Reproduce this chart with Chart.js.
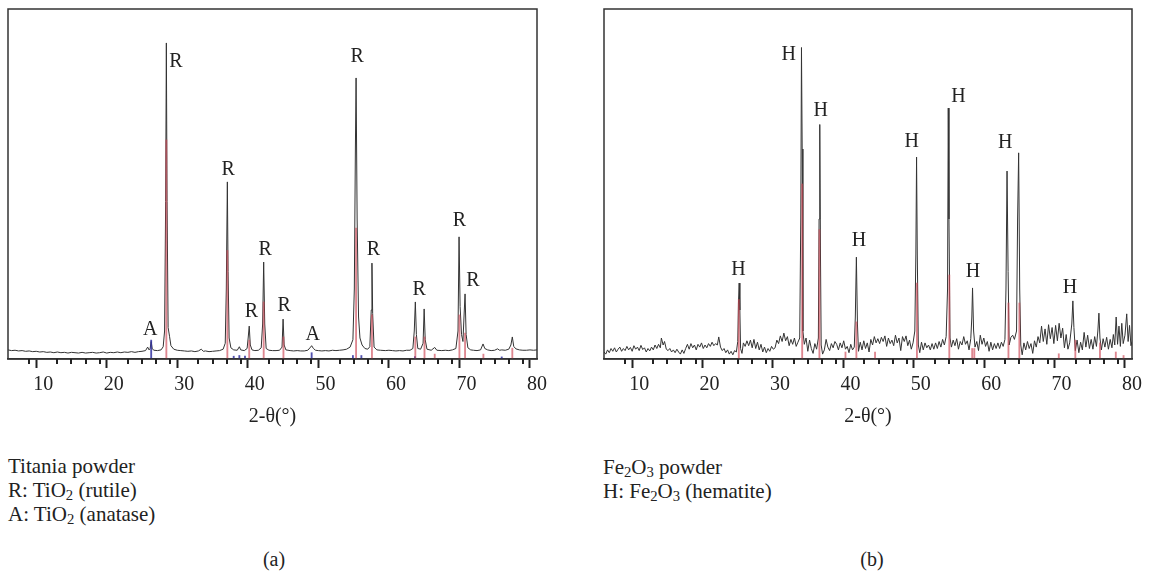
<!DOCTYPE html>
<html>
<head>
<meta charset="utf-8">
<script src="https://cdn.jsdelivr.net/npm/chart.js@4/dist/chart.umd.min.js"></script>
<style>
  body { margin: 0; width: 1150px; height: 572px; background: #fff; position: relative; overflow: hidden;
         font-family: 'Liberation Serif', 'DejaVu Serif', serif; color: #222; }
  .plot { position: absolute; top: 0; width: 575px; height: 440px; }
  .caption { position: absolute; font-size: 21px; line-height: 24px; white-space: nowrap; }
  .caption sub { font-size: 70%; vertical-align: -0.2em; line-height: 0; }
  .panel { position: absolute; top: 547px; font-size: 20px; line-height: 24px; transform: translateX(-50%); }
</style>
</head>
<body>
<div class="plot" style="left:0"><canvas id="chartA"></canvas></div>
<div class="plot" style="left:575px"><canvas id="chartB"></canvas></div>

<div class="caption" style="left:8px; top:454px">Titania powder<br>R: TiO<sub>2</sub> (rutile)<br>A: TiO<sub>2</sub> (anatase)</div>
<div class="caption" style="left:603px; top:455px">Fe<sub>2</sub>O<sub>3</sub> powder<br>H: Fe<sub>2</sub>O<sub>3</sub> (hematite)</div>
<div class="panel" style="left:274px">(a)</div>
<div class="panel" style="left:872px">(b)</div>

<script>
// --- DONNÉES (a) : poudre de titane ---
const titaniaTheta = [5.0, 5.5, 6.0, 6.5, 7.0, 7.5, 8.0, 8.5, 9.0, 9.5, 10.0, 10.5, 11.0, 11.5, 12.0, 12.5,
  13.0, 13.5, 14.0, 14.5, 15.0, 15.5, 16.0, 16.5, 17.0, 17.5, 18.0, 18.5, 19.0, 19.5, 20.0, 20.5, 21.0,
  21.5, 22.0, 22.5, 23.0, 23.5, 24.0, 24.5, 24.8, 25.0, 25.15, 25.3, 25.45, 25.7, 26.2, 26.7, 27.0, 27.2,
  27.35, 27.45, 27.55, 27.7, 27.9, 28.1, 28.5, 29.0, 29.5, 30.0, 30.5, 31.0, 31.5, 32.0, 32.4, 32.7, 33.0,
  33.5, 34.0, 34.5, 35.0, 35.5, 35.8, 35.95, 36.1, 36.2, 36.35, 36.6, 37.0, 37.5, 37.8, 38.0, 38.5, 38.9,
  39.05, 39.2, 39.35, 39.6, 40.0, 40.5, 40.9, 41.1, 41.25, 41.4, 41.6, 42.0, 42.5, 43.0, 43.5, 43.85, 44.0,
  44.15, 44.4, 45.0, 45.5, 46.0, 46.5, 47.0, 47.5, 47.9, 48.05, 48.3, 48.6, 49.0, 49.5, 50.0, 50.5, 51.0,
  51.5, 52.0, 52.5, 53.0, 53.5, 53.9, 54.1, 54.25, 54.35, 54.5, 54.7, 54.9, 55.2, 55.6, 56.0, 56.3, 56.5,
  56.6, 56.7, 56.9, 57.3, 57.8, 58.5, 59.0, 59.5, 60.0, 60.5, 61.0, 61.5, 62.0, 62.4, 62.6, 62.75, 62.9,
  63.1, 63.5, 63.85, 64.0, 64.15, 64.4, 65.0, 65.5, 65.8, 66.5, 67.0, 67.5, 68.0, 68.5, 68.8, 68.95, 69.1,
  69.3, 69.5, 69.65, 69.8, 69.95, 70.2, 70.6, 71.0, 71.5, 72.0, 72.35, 72.6, 73.0, 73.5, 74.0, 74.4, 74.7,
  75.0, 75.5, 76.0, 76.3, 76.5, 76.7, 77.0, 77.5, 78.0, 78.5, 79.0, 79.5, 80.0];
const titaniaCounts = [2.6, 2.4, 2.5, 2.3, 2.4, 2.2, 2.3, 2.1, 2.2, 2.0, 2.1, 1.9, 2.0, 1.8, 2.0, 1.8,
  1.9, 1.7, 1.9, 1.8, 1.7, 1.9, 1.7, 1.8, 1.9, 1.7, 1.8, 2.0, 1.7, 1.9, 1.8, 2.0, 1.8,
  2.0, 1.9, 2.1, 1.9, 2.1, 2.2, 2.4, 3.4, 2.6, 3.0, 5.0, 2.9, 2.5, 2.4, 2.6, 3.5, 8.0,
  45, 90.3, 45, 9.0, 6.5, 3.8, 2.8, 2.5, 2.4, 2.3, 2.2, 2.3, 2.1, 2.3, 2.8, 2.2, 2.3,
  2.1, 2.2, 2.3, 2.4, 2.8, 4.5, 20, 50.6, 25, 6.0, 3.2, 2.6, 2.5, 3.5, 2.6, 2.4, 3.0,
  6.0, 9.4, 4.0, 2.6, 2.4, 2.5, 3.2, 10, 27.7, 10, 3.0, 2.5, 2.4, 2.4, 2.5, 3.4, 11.4,
  4.0, 2.6, 2.4, 2.3, 2.4, 2.3, 2.3, 2.5, 3.4, 3.8, 3.0, 2.5, 2.4, 2.3, 2.4, 2.3, 2.5,
  2.4, 2.5, 2.6, 2.8, 3.4, 5.5, 20, 60, 80.3, 40, 12, 6.0, 4.0, 3.0, 2.8, 3.5, 14,
  27.4, 13, 3.4, 2.6, 2.5, 2.4, 2.5, 2.4, 2.3, 2.4, 2.3, 2.5, 2.5, 3.0, 8.0, 16.3, 7.0,
  3.0, 2.8, 4.5, 14.3, 5.5, 2.8, 2.5, 3.3, 2.5, 2.4, 2.5, 2.4, 2.6, 3.0, 8.0, 34.9, 15,
  7.0, 5.0, 12, 18.6, 7.0, 3.2, 2.6, 2.5, 2.4, 2.6, 4.3, 3.0, 2.6, 2.4, 2.5, 2.9, 2.5,
  2.6, 2.5, 2.8, 4.0, 6.3, 3.6, 2.9, 2.6, 2.5, 2.5, 2.6, 2.5, 2.6];

// raies de référence
const rutileTheta = [27.45, 36.1, 39.2, 41.25, 44.05, 54.35, 56.6, 62.75, 64.05, 65.5, 69.0, 69.8, 72.4, 76.5];
const rutileRef = [62.6, 31, 5.4, 16.3, 6.3, 37.4, 12.6, 6.3, 6.3, 1.4, 12.6, 7.4, 1.4, 3.1];
const anataseTheta = [25.3, 37.0, 37.8, 38.6, 48.05, 53.9, 55.1, 62.7, 75.0];
const anataseRef = [5.4, 0.8, 1.0, 0.8, 1.8, 1.0, 1.0, 0.7, 0.6];

// étiquettes des pics
const titaniaLabelTheta = [25.15, 28.8, 36.2, 39.5, 41.45, 44.15, 48.2, 54.5, 56.8, 63.3, 69.0, 70.9];
const titaniaLabelY = [8.4, 84.9, 54, 13.6, 31.1, 15.1, 7.0, 86.3, 31.1, 19.7, 39.4, 22.4];
const titaniaLabelText = ['A', 'R', 'R', 'R', 'R', 'R', 'A', 'R', 'R', 'R', 'R', 'R'];

// --- DONNÉES (b) : poudre de Fe2O3 ---
const hematiteTheta = [5.0, 5.25, 5.5, 5.75, 6.0, 6.25, 6.5, 6.75, 7.0, 7.25, 7.5, 7.75, 8.0, 8.25, 8.5,
  8.75, 9.0, 9.25, 9.5, 9.75, 10.0, 10.25, 10.5, 10.75, 11.0, 11.25, 11.5, 11.75, 12.0, 12.25, 12.5, 12.75,
  13.0, 13.15, 13.4, 13.6, 13.85, 14.1, 14.35, 14.6, 14.85, 15.1, 15.35, 15.6, 15.85, 16.1, 16.35, 16.6,
  16.85, 17.1, 17.35, 17.6, 17.85, 18.1, 18.35, 18.6, 18.85, 19.1, 19.35, 19.6, 19.85, 20.1, 20.35, 20.6,
  20.85, 21.1, 21.3, 21.55, 21.8, 22.05, 22.3, 22.55, 22.8, 23.05, 23.3, 23.55, 23.8, 24.0, 24.1, 24.2,
  24.3, 24.4, 24.6, 24.8, 25.05, 25.3, 25.55, 25.8, 26.05, 26.3, 26.55, 26.8, 27.05, 27.3, 27.55, 27.8,
  28.05, 28.3, 28.55, 28.8, 29.05, 29.3, 29.55, 29.8, 30.05, 30.3, 30.55, 30.8, 31.05, 31.3, 31.55, 31.8,
  32.05, 32.3, 32.55, 32.8, 32.95, 33.05, 33.15, 33.25, 33.45, 33.7, 33.95, 34.2, 34.45, 34.7, 34.95,
  35.2, 35.45, 35.55, 35.65, 35.75, 35.85, 36.05, 36.3, 36.55, 36.8, 37.05, 37.3, 37.55, 37.8, 38.05,
  38.3, 38.55, 38.8, 39.05, 39.3, 39.55, 39.8, 40.05, 40.3, 40.55, 40.7, 40.85, 41.0, 41.15, 41.4, 41.65,
  41.9, 42.15, 42.4, 42.65, 42.9, 43.15, 43.4, 43.65, 43.9, 44.15, 44.4, 44.65, 44.9, 45.15, 45.4, 45.65,
  45.9, 46.15, 46.4, 46.65, 46.9, 47.15, 47.4, 47.65, 47.9, 48.15, 48.4, 48.65, 48.9, 49.15, 49.3, 49.4,
  49.5, 49.65, 49.85, 50.1, 50.35, 50.6, 50.85, 51.1, 51.35, 51.6, 51.85, 52.1, 52.35, 52.6, 52.85, 53.1,
  53.35, 53.6, 53.8, 53.9, 54.0, 54.15, 54.35, 54.6, 54.85, 55.1, 55.35, 55.6, 55.85, 56.1, 56.35, 56.6,
  56.85, 57.1, 57.25, 57.35, 57.5, 57.7, 57.95, 58.2, 58.45, 58.7, 58.95, 59.2, 59.45, 59.7, 59.95, 60.2,
  60.45, 60.7, 60.95, 61.2, 61.45, 61.7, 61.95, 62.1, 62.25, 62.4, 62.55, 62.8, 63.05, 63.3, 63.6, 63.75,
  63.9, 64.05, 64.2, 64.4, 64.65, 64.9, 65.15, 65.4, 65.65, 65.9, 66.15, 66.4, 66.65, 66.9, 67.15, 67.4,
  67.65, 67.9, 68.15, 68.4, 68.65, 68.9, 69.15, 69.4, 69.65, 69.9, 70.15, 70.4, 70.65, 70.9, 71.15, 71.45,
  71.6, 71.75, 71.95, 72.2, 72.45, 72.7, 72.95, 73.2, 73.45, 73.7, 73.95, 74.2, 74.45, 74.7, 74.95, 75.15,
  75.3, 75.45, 75.65, 75.9, 76.15, 76.4, 76.65, 76.9, 77.15, 77.35, 77.55, 77.75, 77.95, 78.15, 78.35,
  78.55, 78.75, 79.0, 79.25, 79.45, 79.65, 79.85, 80.0];
const hematiteCounts = [2.0, 1.4, 2.6, 1.8, 3.0, 2.2, 3.2, 2.0, 2.8, 3.4, 2.2, 3.0, 2.4, 3.6, 2.6,
  3.3, 2.2, 3.8, 2.8, 3.4, 2.4, 3.9, 2.7, 3.2, 2.0, 3.0, 2.3, 3.4, 2.6, 4.0, 3.0, 4.2,
  3.2, 6.0, 4.0, 5.0, 2.8, 2.4, 3.0, 2.0, 2.6, 1.8, 2.8, 2.0, 1.4, 2.6, 1.6, 3.0,
  4.2, 2.8, 4.4, 3.2, 4.0, 2.6, 4.2, 3.4, 4.6, 3.0, 4.0, 3.2, 4.4, 3.6, 4.8, 3.8,
  4.4, 4.0, 6.3, 3.4, 2.4, 3.0, 1.8, 2.6, 1.4, 2.2, 1.2, 2.4, 2.0, 5.0, 16, 21.7,
  14, 3.0, 1.6, 4.6, 3.6, 5.2, 3.8, 5.4, 3.2, 5.6, 3.0, 4.8, 2.6, 4.2, 2.0, 3.4,
  1.8, 3.0, 2.2, 3.6, 2.8, 3.2, 5.4, 4.4, 6.6, 5.0, 7.4, 5.2, 6.4, 3.8, 5.6, 4.2,
  6.0, 3.6, 4.8, 6.0, 40, 89, 60, 8.0, 4.2, 6.0, 2.2, 5.4, 3.0, 1.6, 4.4,
  2.8, 6.0, 40, 67, 30, 4.0, 1.4, 2.6, 5.6, 3.4, 2.4, 4.4, 3.2, 5.0, 4.2,
  2.6, 4.6, 3.2, 5.2, 2.8, 3.6, 1.8, 4.2, 2.6, 3.4, 12, 29.1, 10, 2.2, 4.8, 2.6,
  5.2, 3.0, 4.6, 2.0, 5.6, 4.0, 6.4, 4.6, 5.8, 4.4, 6.2, 5.0, 6.6, 3.6, 6.0, 4.4,
  5.4, 3.8, 6.8, 4.6, 6.0, 2.4, 6.4, 5.0, 6.6, 3.8, 5.4, 2.8, 4.6, 8.0, 30, 57.7,
  30, 4.0, 1.8, 4.8, 2.6, 4.6, 3.2, 4.0, 2.6, 4.4, 2.8, 4.6, 3.0, 5.0, 3.4, 5.6,
  4.0, 6.4, 20, 71.7, 40, 6.0, 3.4, 5.4, 3.8, 5.8, 2.8, 5.0, 4.0, 6.4, 4.2, 5.2,
  2.6, 5.8, 12, 20.3, 8.0, 3.4, 5.0, 2.4, 6.8, 4.2, 6.0, 3.6, 5.0, 2.2, 4.8, 2.6,
  4.4, 3.0, 4.6, 3.0, 4.8, 3.6, 5.6, 20, 53.7, 25, 4.0, 6.2, 6.8, 5.6, 8.0, 40,
  58.9, 20, 4.0, 1.2, 4.6, 2.6, 5.0, 3.0, 4.4, 1.6, 5.2, 3.4, 6.4, 4.6, 9.4, 5.0,
  8.6, 4.2, 9.8, 5.8, 9.0, 4.4, 9.6, 5.2, 10.2, 6.0, 8.8, 3.2, 7.0, 2.8, 4.6, 10,
  16.6, 9.0, 2.4, 5.4, 1.8, 4.8, 2.6, 7.6, 3.4, 6.8, 3.0, 5.6, 2.8, 6.4, 3.6, 8.0,
  13.1, 6.0, 2.6, 5.8, 3.4, 6.2, 2.8, 5.6, 3.2, 7.0, 4.0, 12.0, 4.2, 9.4, 3.6,
  10.2, 4.4, 6.8, 12.9, 5.0, 9.6, 3.8, 5.0];

const hematiteRefTheta = [24.15, 33.15, 35.6, 39.3, 40.85, 43.5, 49.45, 54.05, 57.3, 57.6, 62.45, 64.0, 69.6, 71.95, 75.45, 77.7, 78.8];
const hematiteRef = [17, 50, 37, 2.0, 10.6, 2.0, 21.7, 24, 3.0, 3.0, 16, 16, 1.5, 5.4, 4.6, 2.0, 1.0];

const hematiteLabelTheta = [24.1, 31.25, 35.8, 41.2, 48.7, 55.35, 57.4, 62.0, 71.2];
const hematiteLabelY = [25.4, 86.9, 71, 33.7, 62, 74.9, 24.9, 61.7, 20.3];
const hematiteLabelText = ['H', 'H', 'H', 'H', 'H', 'H', 'H', 'H', 'H'];

const xTitle = '2-θ(°)';
const serif = "'Liberation Serif', 'DejaVu Serif', serif";

// --- PLUGINS : cadre, petites graduations, étiquettes ---
const framePlugin = {
  id: 'frame',
  afterDraw(chart) {
    const { ctx, chartArea: a, scales: { x } } = chart;
    ctx.save();
    ctx.strokeStyle = '#333';
    ctx.lineWidth = 1.5;
    ctx.strokeRect(a.left, a.top, a.right - a.left, a.bottom - a.top);
    ctx.lineWidth = 2;
    ctx.strokeStyle = '#222';
    x.ticks.forEach(t => {
      if (t.value % 10 !== 0 && t.value > x.min) {
        const px = Math.round(x.getPixelForValue(t.value));
        ctx.beginPath();
        ctx.moveTo(px, a.bottom);
        ctx.lineTo(px, a.bottom + 5);
        ctx.stroke();
      }
    });
    ctx.restore();
  }
};

const labelPlugin = {
  id: 'peakLabels',
  afterDatasetsDraw(chart, args, opts) {
    const { ctx, scales: { x, y } } = chart;
    ctx.save();
    ctx.font = '20px ' + serif;
    ctx.fillStyle = '#222';
    ctx.textAlign = 'center';
    ctx.textBaseline = 'middle';
    opts.text.forEach((t, i) => {
      ctx.fillText(t, x.getPixelForValue(opts.theta[i]), y.getPixelForValue(opts.y[i]));
    });
    ctx.restore();
  }
};

function pairs(xs, ys) {
  return xs.map((t, i) => ({ x: t, y: ys[i] }));
}

function stickSet(xs, ys, color) {
  return {
    type: 'bar',
    data: pairs(xs, ys),
    backgroundColor: color,
    barThickness: 1.2,
    grouped: false,
    order: 0
  };
}

function makeXrd(id, pad, line, sticks, labels) {
  return new Chart(document.getElementById(id), {
    type: 'line',
    data: {
      datasets: [
        ...sticks,
        {
          data: line,
          borderColor: '#333',
          borderWidth: 1,
          pointRadius: 0,
          tension: 0,
          order: 1
        }
      ]
    },
    options: {
      responsive: true,
      maintainAspectRatio: false,
      animation: false,
      layout: { padding: pad },
      plugins: {
        legend: { display: false },
        tooltip: { enabled: false },
        peakLabels: labels
      },
      scales: {
        x: {
          type: 'linear',
          min: 5,
          max: 80,
          offset: false,
          afterFit: s => { s.height = 70; },
          border: { display: true, color: '#333', width: 1.5 },
          grid: {
            drawOnChartArea: false,
            drawTicks: true,
            tickLength: 9,
            tickWidth: 2,
            tickColor: c => (c.tick && c.tick.value % 10 === 0) ? '#222' : 'rgba(0,0,0,0)'
          },
          ticks: {
            stepSize: 2,
            autoSkip: false,
            maxRotation: 0,
            padding: 5,
            color: '#222',
            font: { family: serif, size: 20 },
            callback: v => (v % 10 === 0 ? v : '')
          },
          title: {
            display: true,
            text: xTitle,
            color: '#222',
            font: { family: serif, size: 20 },
            padding: { top: 0, bottom: 0 }
          }
        },
        y: { display: false, min: 0, max: 100 }
      }
    },
    plugins: [framePlugin, labelPlugin]
  });
}

makeXrd('chartA', { left: 8, right: 38, top: 9, bottom: 11 },
  pairs(titaniaTheta, titaniaCounts),
  [stickSet(rutileTheta, rutileRef, 'rgba(205,70,85,0.65)'),
   stickSet(anataseTheta, anataseRef, 'rgba(50,50,160,0.85)')],
  { theta: titaniaLabelTheta, y: titaniaLabelY, text: titaniaLabelText });

makeXrd('chartB', { left: 29, right: 18, top: 9, bottom: 11 },
  pairs(hematiteTheta, hematiteCounts),
  [stickSet(hematiteRefTheta, hematiteRef, 'rgba(205,70,85,0.65)')],
  { theta: hematiteLabelTheta, y: hematiteLabelY, text: hematiteLabelText });
</script>
</body>
</html>
